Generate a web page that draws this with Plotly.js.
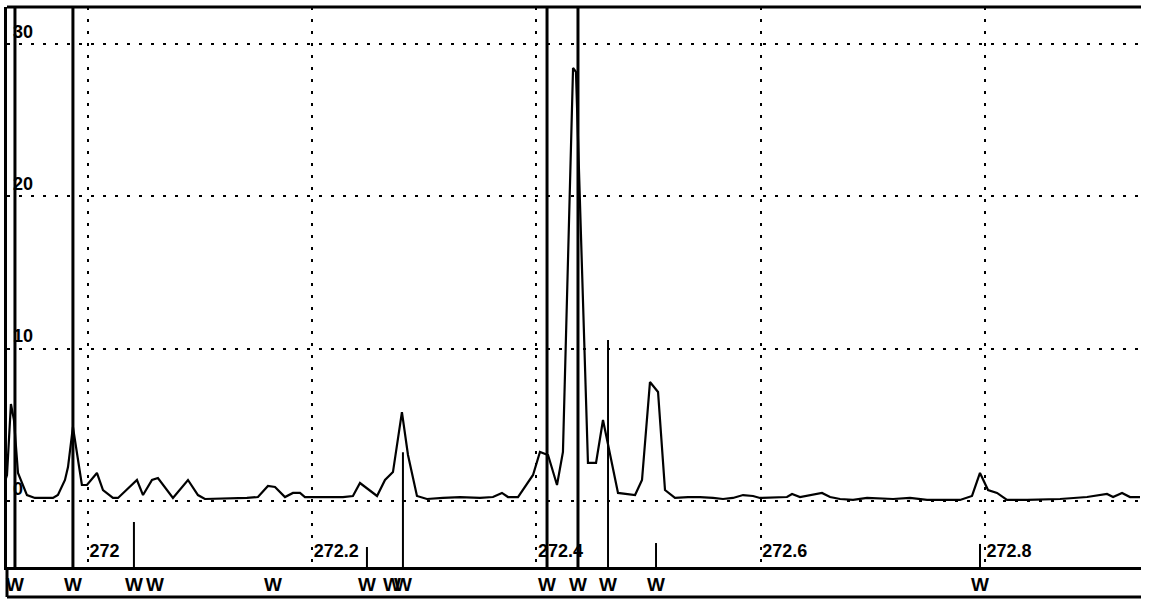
<!DOCTYPE html>
<html>
<head>
<meta charset="utf-8">
<script src="https://cdn.plot.ly/plotly-3.0.1.min.js"></script>
<style>html,body{margin:0;padding:0;background:#fff;}#chart{width:1154px;height:610px;}</style>
</head>
<body>
<div id="chart"></div>
<script>
// Spectrum (wavelength, nm) and intensity
const wavelength = [271.9242,271.9278,271.9313,271.9340,271.9376,271.9456,271.9527,271.9688,271.9732,271.9795,271.9822,271.9866,271.9946,271.9991,272.0080,272.0134,272.0223,272.0268,272.0437,272.0491,272.0571,272.0624,272.0758,272.0892,272.0981,272.1043,272.1418,272.1516,272.1605,272.1668,272.1757,272.1828,272.1891,272.1935,272.2274,272.2363,272.2426,272.2578,272.2649,272.2720,272.2800,272.2854,272.2934,272.3023,272.3166,272.3318,272.3496,272.3612,272.3692,272.3746,272.3835,272.3969,272.4031,272.4103,272.4183,272.4236,272.4326,272.4352,272.4459,272.4531,272.4593,272.4727,272.4879,272.4941,272.5012,272.5084,272.5146,272.5235,272.5351,272.5458,272.5574,272.5663,272.5752,272.5842,272.5931,272.5993,272.6234,272.6279,272.6350,272.6439,272.6546,272.6618,272.6707,272.6823,272.6948,272.7180,272.7331,272.7483,272.7777,272.7884,272.7955,272.8027,272.8107,272.8196,272.8375,272.8669,272.8910,272.9088,272.9142,272.9222,272.9293,272.9382];
const intensity = [0.85,1.71,6.37,5.32,1.84,0.39,0.20,0.20,0.39,1.38,2.23,4.86,1.05,1.05,1.84,0.72,0.20,0.20,1.38,0.39,1.38,1.51,0.20,1.38,0.39,0.13,0.20,0.26,0.99,0.92,0.26,0.53,0.53,0.26,0.26,0.33,1.18,0.33,1.38,1.90,5.84,3.02,0.33,0.13,0.20,0.26,0.20,0.26,0.53,0.26,0.26,1.71,3.22,3.02,1.05,3.22,28.43,28.17,2.50,2.50,5.32,0.53,0.39,1.38,7.81,7.16,0.72,0.20,0.26,0.26,0.20,0.13,0.20,0.39,0.33,0.20,0.26,0.46,0.26,0.39,0.53,0.26,0.13,0.07,0.20,0.13,0.20,0.07,0.07,0.33,1.84,0.72,0.53,0.07,0.07,0.13,0.26,0.46,0.26,0.53,0.26,0.26];

// W reference lines: position and top intensity of each marker line
const wLineX   = [271.9349, 271.9866, 272.0410, 272.2488, 272.2809, 272.4094, 272.4370, 272.4638, 272.5066, 272.7955];
const wLineTop = [40, 40, -1.38, -3.02, 3.2, 40, 40, 10.57, -2.76, -2.82];
// W label positions
const wLabelX = [271.9349, 271.9866, 272.0410, 272.0598, 272.1650, 272.2488, 272.2711, 272.2809, 272.4094, 272.4370, 272.4638, 272.5066, 272.7955];
const wLabelText = 'W';

const xTickVals = [272, 272.2, 272.4, 272.6, 272.8];
const xTickText = ['272', '272.2', '272.4', '272.6', '272.8'];
const yTickVals = [0, 10, 20, 30];
const yTickText = ['0', '10', '20', '30'];

const X_RANGE = [271.9278, 272.9391];
const Y_RANGE = [-4.334, 32.436];

const FONT = {family: 'Liberation Sans, Arial, sans-serif', size: 18, color: '#000', weight: 700};
const WFONT = {family: 'Liberation Sans, Arial, sans-serif', size: 19, color: '#000', weight: 700};

const traces = [];
wLineX.forEach((x, i) => {
  const strong = wLineTop[i] > 20;
  traces.push({
    type: 'scatter', mode: 'lines',
    x: [x, x], y: [Y_RANGE[0], wLineTop[i]],
    line: {color: '#000', width: strong ? 3 : 2},
    hoverinfo: 'skip', showlegend: false
  });
});
traces.push({
  type: 'scatter', mode: 'lines',
  x: wavelength, y: intensity,
  line: {color: '#000', width: 2.2},
  showlegend: false
});

const annotations = wLabelX.map(x => ({
  x: x, xref: 'x', y: -0.032, yref: 'paper',
  text: wLabelText, showarrow: false, xanchor: 'center', yanchor: 'middle',
  font: WFONT
}));

const layout = {
  width: 1154, height: 610,
  margin: {l: 7, r: 13, t: 7, b: 43},
  paper_bgcolor: '#fff', plot_bgcolor: '#fff',
  showlegend: false,
  font: FONT,
  xaxis: {
    range: X_RANGE, tickvals: xTickVals, ticktext: xTickText,
    ticks: '', ticklabelposition: 'inside right', ticklabelstandoff: 4,
    showgrid: true, gridcolor: '#000', gridwidth: 2, griddash: '3px,9px',
    zeroline: false, showline: true, linecolor: '#000', linewidth: 3,
    tickfont: FONT
  },
  yaxis: {
    range: Y_RANGE, tickvals: yTickVals, ticktext: yTickText,
    ticks: '', ticklabelposition: 'inside top', ticklabelstandoff: 5,
    showgrid: true, gridcolor: '#000', gridwidth: 2, griddash: '3px,9px',
    zeroline: false, showline: true, linecolor: '#000', linewidth: 3,
    tickfont: FONT
  },
  shapes: [
    {type: 'line', xref: 'paper', yref: 'paper', x0: 0, x1: 1, y0: 1, y1: 1, line: {color: '#000', width: 3}},
    {type: 'line', xref: 'paper', yref: 'paper', x0: 0, x1: 1, y0: -0.0536, y1: -0.0536, line: {color: '#000', width: 3}},
    {type: 'line', xref: 'paper', yref: 'paper', x0: 0, x1: 0, y0: -0.0536, y1: 0, line: {color: '#000', width: 3}}
  ],
  annotations: annotations
};

Plotly.newPlot('chart', traces, layout, {displayModeBar: false, staticPlot: true});
</script>
</body>
</html>
